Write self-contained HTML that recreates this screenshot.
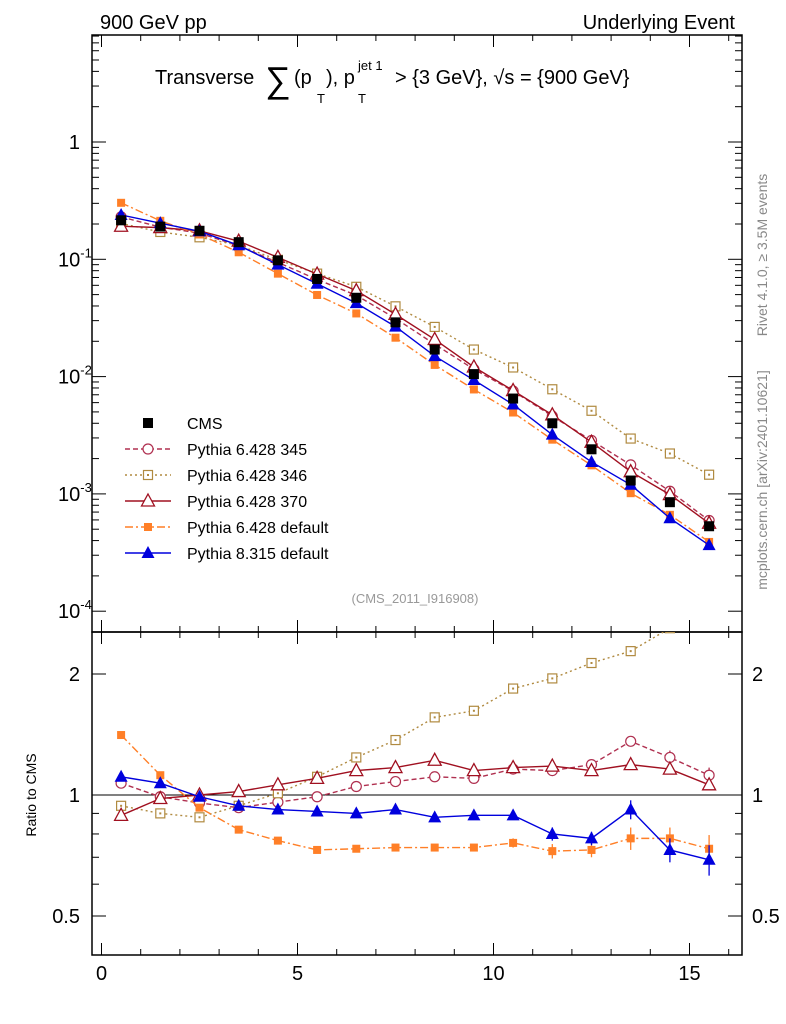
<!DOCTYPE html>
<html><head><meta charset="utf-8"><style>
body{margin:0;background:#fff;}
svg{display:block;font-family:"Liberation Sans",sans-serif;}
</style></head><body>
<svg id="c" width="786" height="1024" viewBox="0 0 786 1024">
<rect x="0" y="0" width="786" height="1024" fill="#fff"/>
<text x="100" y="29" font-size="20">900 GeV pp</text>
<text x="735" y="29" font-size="20" text-anchor="end">Underlying Event</text>
<g font-size="20">
<text x="155" y="84">Transverse</text>
<text x="265" y="92" font-size="36">∑</text>
<text x="294" y="84">(p</text><text x="317" y="103" font-size="13">T</text><text x="326" y="84">), p</text>
<text x="358" y="103" font-size="13">T</text><text x="358" y="70" font-size="13">jet 1</text>
<text x="395" y="84">&gt; {3 GeV}, √s = {900 GeV}</text>
</g>
<text x="415" y="603" font-size="13" fill="#999" text-anchor="middle">(CMS_2011_I916908)</text>
<text transform="translate(767,255) rotate(-90)" font-size="14" fill="#888" text-anchor="middle">Rivet 4.1.0, ≥ 3.5M events</text>
<text transform="translate(767,480) rotate(-90)" font-size="14" fill="#888" text-anchor="middle">mcplots.cern.ch [arXiv:2401.10621]</text>
<text transform="translate(36,795) rotate(-90)" font-size="14" text-anchor="middle">Ratio to CMS</text>
<g id="g"></g>
</svg>
<script>
const xs=[0.5,1.5,2.5,3.5,4.5,5.5,6.5,7.5,8.5,9.5,10.5,11.5,12.5,13.5,14.5,15.5];
const cms=[0.215,0.19,0.175,0.14,0.098,0.068,0.047,0.029,0.017,0.0105,0.0065,0.0040,0.0024,0.0013,0.00085,0.00053];
const r345=[1.07,0.99,0.955,0.93,0.96,0.99,1.05,1.08,1.11,1.10,1.16,1.15,1.19,1.36,1.24,1.12];
const r346=[0.94,0.90,0.88,0.94,1.01,1.11,1.24,1.37,1.56,1.62,1.84,1.95,2.13,2.28,2.6,2.75];
const r370=[0.89,0.98,1.0,1.02,1.06,1.10,1.15,1.17,1.22,1.15,1.17,1.18,1.15,1.19,1.16,1.06];
const rp6=[1.41,1.12,0.93,0.82,0.77,0.73,0.735,0.74,0.74,0.74,0.76,0.725,0.73,0.78,0.78,0.735];
const rp8=[1.11,1.07,0.99,0.94,0.92,0.91,0.90,0.92,0.88,0.89,0.89,0.80,0.78,0.92,0.73,0.69];
const errP6=[0,0,0,0,0,0,0,0,0,0,0.02,0.03,0.03,0.05,0.05,0.06];
const errP8=[0,0,0,0,0,0,0,0,0,0,0,0.03,0.03,0.05,0.05,0.06];
const err345=[0,0,0,0,0,0,0,0,0,0,0.02,0.02,0.02,0.04,0.05,0.05];
const xTicks=[0,5,10,15];
const X=v=>101.5+39.2*v;
const YM=v=>142-117.3*Math.log10(v);
const YR=r=>795-121*Math.log2(r);
const NS="http://www.w3.org/2000/svg";
const G=document.getElementById('g');
function mk(t,a,p){const e=document.createElementNS(NS,t);for(const k in a)e.setAttribute(k,a[k]);(p||G).appendChild(e);return e;}
const f1=mk('rect',{x:92,y:35,width:650,height:597,fill:'none',stroke:'#000','stroke-width':1.5});


const f2=mk('rect',{x:92,y:632,width:650,height:323,fill:'none',stroke:'#000','stroke-width':1.5});


const ul=mk('line',{x1:92,x2:742,y1:795,y2:795,stroke:'#000','stroke-width':1});


for(let v=0;v<=16.5;v+=0.5){const maj=v%5===0;const L=maj?12:(v%1===0?6:0);if(!L)continue;
 for(const [yb,yt] of [[632,35],[955,632]]){mk('line',{x1:X(v),x2:X(v),y1:yb,y2:yb-L,stroke:'#000'});mk('line',{x1:X(v),x2:X(v),y1:yt,y2:yt+L,stroke:'#000'});}}
xTicks.forEach(v=>{const t=mk('text',{x:X(v),y:980,'font-size':20,'text-anchor':'middle'});t.textContent=v;

});
for(let d=-4;d<=0.8;d++){for(let m=1;m<10;m++){const v=m*Math.pow(10,d);const y=YM(v);if(y<35||y>632)continue;const L=m===1?14:7;
 mk('line',{x1:92,x2:92+L,y1:y,y2:y,stroke:'#000'});mk('line',{x1:742,x2:742-L,y1:y,y2:y,stroke:'#000'});}}
[0,-1,-2,-3,-4].forEach(d=>{const t=mk('text',{x:d===0?80:58,y:YM(Math.pow(10,d))+7,'font-size':20,'text-anchor':d===0?'end':'start'});
 if(d===0)t.textContent='1';else{t.textContent='10';const s=mk('tspan',{dy:-9,'font-size':13},t);s.textContent=String(d);}
 
 });
[0.5,0.6,0.7,0.8,0.9,1,2].forEach(r=>{const y=YR(r);const L=(r===0.5||r===1||r===2)?14:7;
 mk('line',{x1:92,x2:92+L,y1:y,y2:y,stroke:'#000'});mk('line',{x1:742,x2:742-L,y1:y,y2:y,stroke:'#000'});});
[0.5,1,2].forEach(r=>{for(const [x,a] of [[80,'end'],[752,'start']]){const t=mk('text',{x:x,y:YR(r)+7,'font-size':20,'text-anchor':a});t.textContent=r;
 
 }});
function marker(p,type,x,y,c){
 if(type==='sq')return mk('rect',{x:x-5,y:y-5,width:10,height:10,fill:'#000'},p);
 if(type==='osq'){const g=mk('g',{},p);mk('rect',{x:x-4.5,y:y-4.5,width:9,height:9,fill:'#fff',stroke:c,'stroke-width':1.2},g);mk('rect',{x:x-1,y:y-1,width:2,height:2,fill:c},g);return g;}
 if(type==='oc')return mk('circle',{cx:x,cy:y,r:5,fill:'#fff',stroke:c,'stroke-width':1.2},p);
 if(type==='otri')return mk('path',{d:`M${x} ${y-7}L${x+6.5} ${y+5}L${x-6.5} ${y+5}Z`,fill:'#fff',stroke:c,'stroke-width':1.3},p);
 if(type==='fsq')return mk('rect',{x:x-4,y:y-4,width:8,height:8,fill:c},p);
 if(type==='tri')return mk('path',{d:`M${x} ${y-7}L${x+6.5} ${y+5}L${x-6.5} ${y+5}Z`,fill:c},p);
}
const series=[
 {n:'pythia-6428-345',lab:'Pythia 6.428 345',r:r345,c:'#b03050',dash:'5,3',m:'oc',e:err345},
 {n:'pythia-6428-346',lab:'Pythia 6.428 346',r:r346,c:'#b08a40',dash:'2,3',m:'osq'},
 {n:'pythia-6428-370',lab:'Pythia 6.428 370',r:r370,c:'#a01020',dash:'',m:'otri'},
 {n:'pythia-6428-default',lab:'Pythia 6.428 default',r:rp6,c:'#ff7f27',dash:'8,3,2,3',m:'fsq',e:errP6},
 {n:'pythia-8315-default',lab:'Pythia 8.315 default',r:rp8,c:'#0000dd',dash:'',m:'tri',e:errP8}];
const cl=mk('clipPath',{id:'clr'});mk('rect',{x:92,y:632,width:650,height:323},cl);
series.forEach(s=>{
 const gm=mk('g',{});
 const pts=xs.map((x,i)=>[X(x),YM(cms[i]*s.r[i])]);
 mk('polyline',{points:pts.map(p=>p.join(',')).join(' '),fill:'none',stroke:s.c,'stroke-width':1.4,'stroke-dasharray':s.dash},gm);
 pts.forEach(p=>marker(gm,s.m,p[0],p[1],s.c));
 const gr=mk('g',{'clip-path':'url(#clr)'});
 const rp=xs.map((x,i)=>[X(x),YR(s.r[i])]);
 mk('polyline',{points:rp.map(p=>p.join(',')).join(' '),fill:'none',stroke:s.c,'stroke-width':1.4,'stroke-dasharray':s.dash},gr);
 if(s.e)xs.forEach((x,i)=>{if(s.e[i]>0)mk('line',{x1:X(x),x2:X(x),y1:YR(s.r[i]+s.e[i]),y2:YR(s.r[i]-s.e[i]),stroke:s.c,'stroke-width':1.3},gr);});
 rp.forEach(p=>marker(gr,s.m,p[0],p[1],s.c));
});
const gc=mk('g',{});
xs.forEach((x,i)=>marker(gc,'sq',X(x),YM(cms[i]),'#000'));
const lg=mk('g',{});
const le0=mk('g',{},lg);
marker(le0,'sq',148,423,'#000');const t0=mk('text',{x:187,y:429,'font-size':16},le0);t0.textContent='CMS';
series.forEach((s,k)=>{const y=449+26*k;const le=mk('g',{},lg);
 
 mk('line',{x1:125,x2:171,y1:y,y2:y,stroke:s.c,'stroke-width':1.4,'stroke-dasharray':s.dash},le);
 marker(le,s.m,148,y,s.c);const t=mk('text',{x:187,y:y+6,'font-size':16},le);t.textContent=s.lab;});
</script>
</body></html>
